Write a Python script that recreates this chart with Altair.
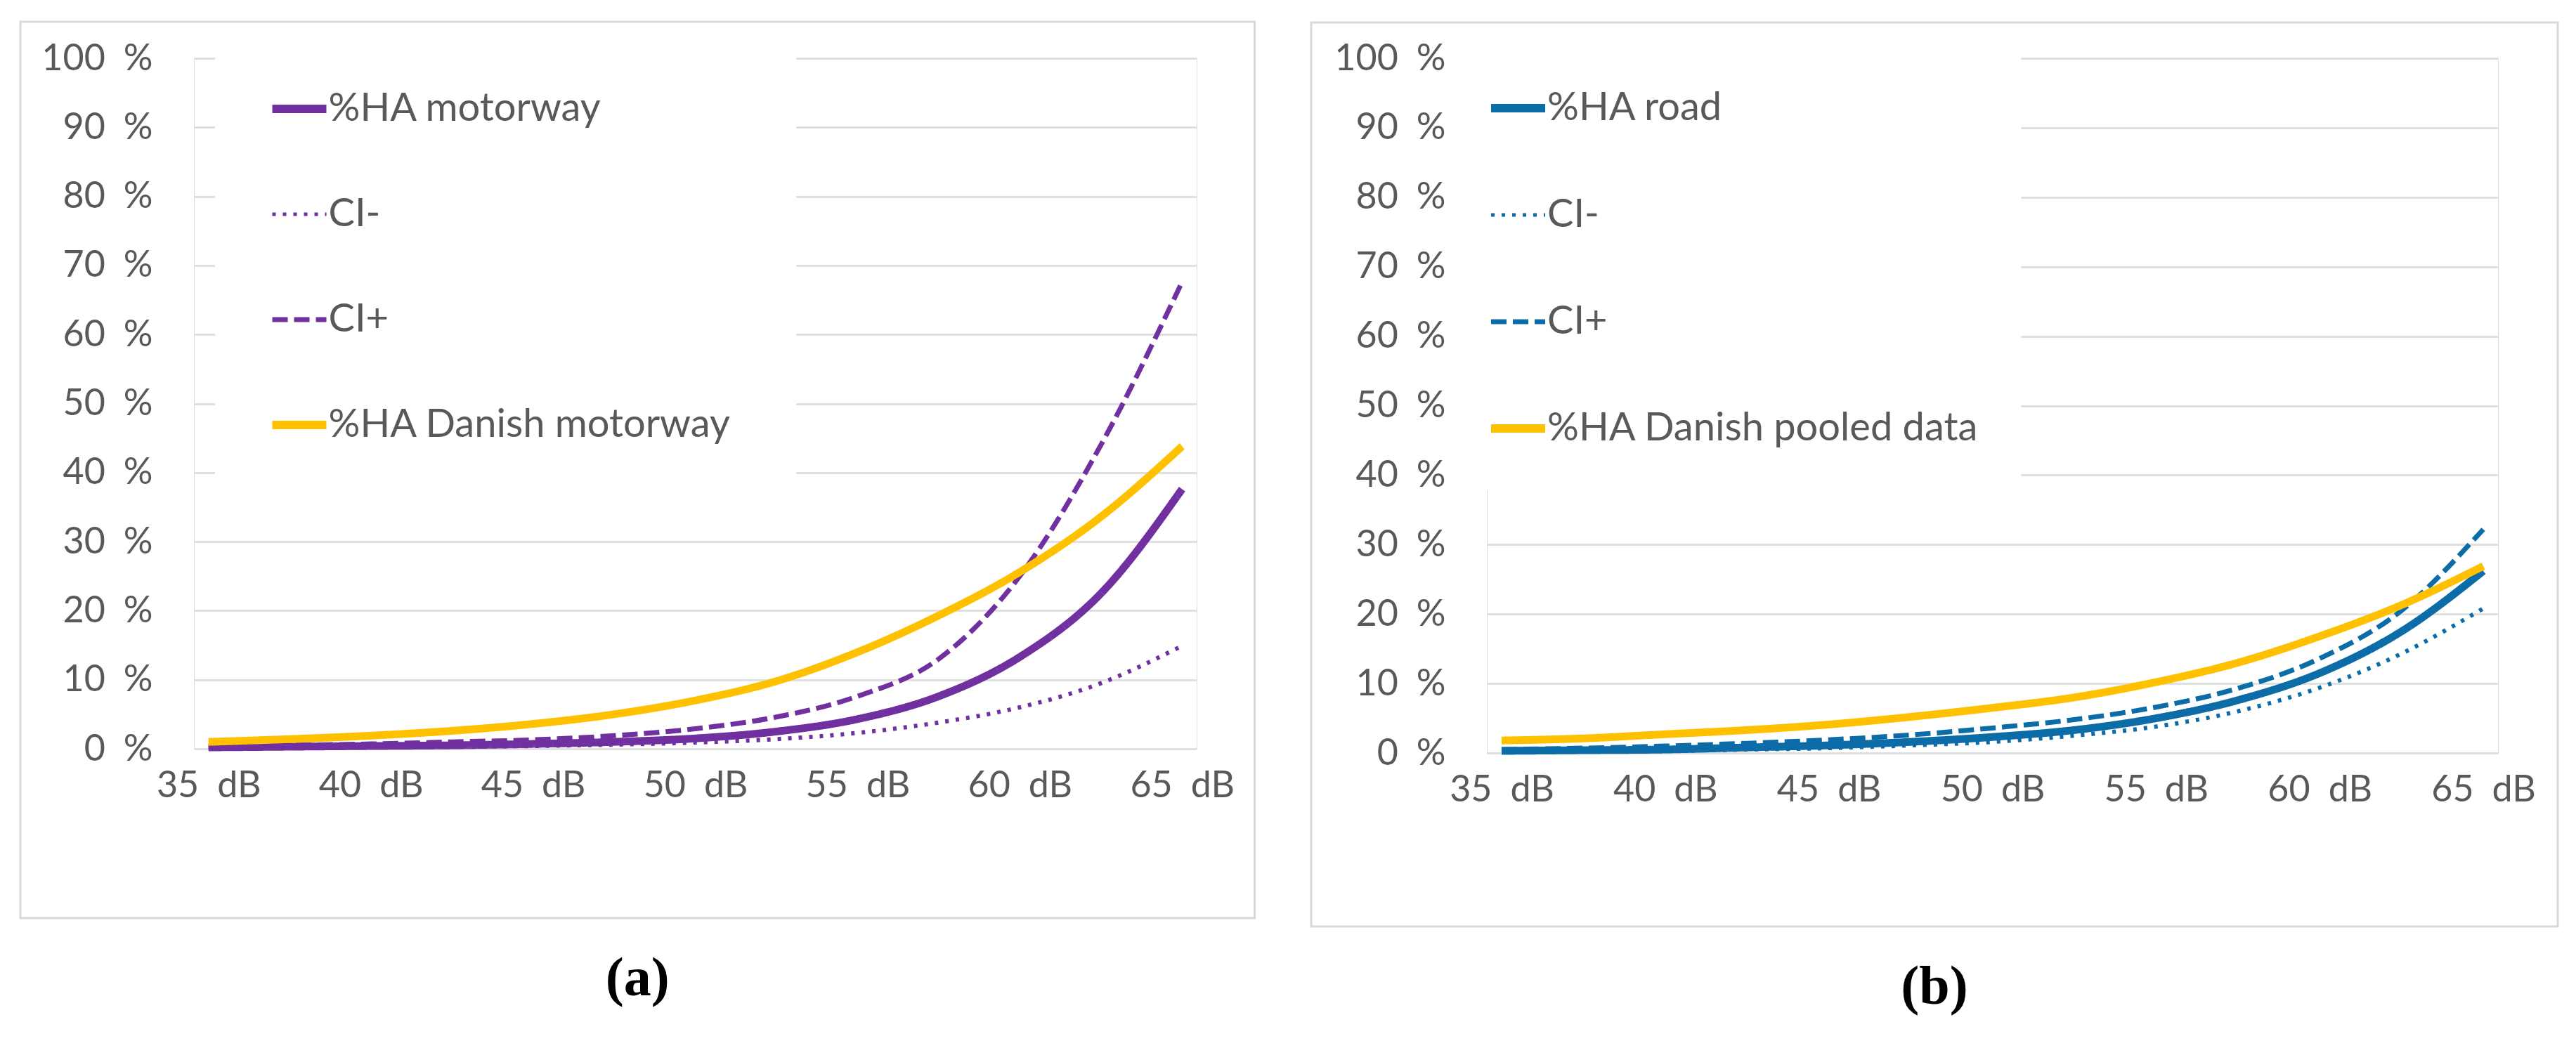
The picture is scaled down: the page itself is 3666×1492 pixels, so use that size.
import altair as alt
import pandas as pd

# ---------------- data ----------------
db = [35, 37.5, 40, 42.5, 45, 47.5, 50, 52.5, 55, 57.5, 60, 62.5, 65]

# panel (a) motorway
a_names = ["%HA motorway", "CI-", "CI+", "%HA Danish motorway"]
a_ha = [0.2, 0.3, 0.4, 0.5, 0.7, 1.0, 1.5, 2.5, 4.3, 7.6, 13.3, 22.5, 37.6]
a_cim = [0.1, 0.15, 0.2, 0.3, 0.4, 0.6, 0.9, 1.4, 2.3, 3.8, 6.0, 9.5, 14.9]
a_cip = [0.3, 0.5, 0.7, 1.0, 1.3, 1.9, 2.9, 4.6, 7.6, 13.0, 25.0, 44.0, 67.6]
a_dk = [1.0, 1.4, 1.9, 2.6, 3.6, 5.0, 7.0, 9.8, 14.0, 19.3, 25.6, 33.6, 43.8]

# panel (b) road
b_names = ["%HA road", "CI-", "CI+", "%HA Danish pooled data"]
b_ha = [0.3, 0.4, 0.5, 0.8, 1.1, 1.6, 2.3, 3.3, 5.0, 7.6, 11.5, 17.5, 26.2]
b_cim = [0.1, 0.2, 0.3, 0.5, 0.7, 1.1, 1.6, 2.5, 3.8, 6.0, 9.4, 14.3, 20.8]
b_cip = [0.5, 0.7, 1.0, 1.4, 1.9, 2.6, 3.6, 4.8, 6.6, 9.3, 13.6, 20.5, 32.2]
b_dk = [1.8, 2.1, 2.7, 3.3, 4.1, 5.2, 6.5, 8.0, 10.2, 13.0, 16.8, 21.3, 26.9]

x_ticks = [35, 40, 45, 50, 55, 60, 65]
y_ticks = [0, 10, 20, 30, 40, 50, 60, 70, 80, 90, 100]

# line style per series position: solid, dotted, dashed, solid (gold)
line_widths = [11, 6, 7, 11]
line_dashes = [[1, 0], [5, 10], [22, 9], [1, 0]]

PURPLE = "#7030A0"
BLUE = "#0B6CA8"
GOLD = "#FFC000"
GRAY_TXT = "#595959"
FRAME = "#d9d9d9"
GRID = "#e0e0e0"
FONT = "Lato"


def long_table(names, series):
    rows = []
    for k, (name, vals) in enumerate(zip(names, series)):
        for x, v in zip(db, vals):
            rows.append({"series": name, "dB": x, "pct": v, "w": line_widths[k]})
    return pd.DataFrame(rows)


def panel(names, series, main_color, width, height, caption,
          leg_x, leg_y, leg_pad, leg_row, frame_box):
    df = long_table(names, series)
    colors = [main_color, main_color, main_color, GOLD]
    sw_expr = "datum.value === 'CI-' ? 5 : datum.value === 'CI+' ? 7 : 12"
    leg = alt.Legend(
        title=None, orient="none", legendX=leg_x, legendY=leg_y,
        fillColor="white", padding=leg_pad, rowPadding=leg_row,
        symbolType="stroke", symbolSize=77 * 77, labelOffset=13.5,
        symbolStrokeWidth={"expr": sw_expr},
        labelFont=FONT, labelFontSize=56, labelColor=GRAY_TXT,
        labelLimit=1000,
    )
    x_enc = alt.X(
        "dB:Q",
        scale=alt.Scale(domain=[34.55, 65.45], nice=False, zero=False),
        axis=alt.Axis(
            values=x_ticks, labelExpr="datum.value + '\u2002dB'",
            grid=False, domain=False, ticks=False, title=None,
            labelPadding=27, labelFont=FONT, labelFontSize=52,
            labelColor=GRAY_TXT, labelFlush=False, labelOverlap=False,
        ),
    )
    y_enc = alt.Y(
        "pct:Q",
        scale=alt.Scale(domain=[0, 100], nice=False),
        axis=alt.Axis(
            values=y_ticks, labelExpr="datum.value + '\u2002%'",
            grid=True, gridColor=GRID, gridWidth=3,
            domain=False, ticks=False, title=None,
            labelPadding=59, labelFont=FONT, labelFontSize=52,
            labelColor=GRAY_TXT, labelOverlap=False,
        ),
    )
    lines = alt.Chart(df).mark_line(interpolate="monotone", strokeCap="butt").encode(
        x=x_enc,
        y=y_enc,
        color=alt.Color("series:N", scale=alt.Scale(domain=names, range=colors), legend=leg),
        strokeDash=alt.StrokeDash("series:N", scale=alt.Scale(domain=names, range=line_dashes), legend=leg),
        strokeWidth=alt.StrokeWidth("w:Q", scale=None),
        order=alt.Order("dB:Q"),
    )
    fx1, fx2, fy1, fy2 = frame_box
    frame = alt.Chart(pd.DataFrame({"f": [0]})).mark_rect(
        fillOpacity=0, stroke=FRAME, strokeWidth=3
    ).encode(
        x=alt.value(fx1), x2=alt.value(fx2), y=alt.value(fy1), y2=alt.value(fy2)
    )
    return alt.layer(frame, lines).properties(
        width=width, height=height,
        title=alt.TitleParams(
            caption, orient="bottom", anchor="middle", frame="bounds",
            font="Liberation Serif", fontSize=78, fontWeight="bold",
            color="black", offset=46,
        ),
    )


WA, HA = 1427, 983
WB, HB = 1439, 989

chart_a = panel(a_names, [a_ha, a_cim, a_cip, a_dk], PURPLE, WA, HA, "(a)",
                30, -48, 92, 94, (-247, WA + 82.5, -52, HA + 241))
chart_b = panel(b_names, [b_ha, b_cim, b_cip, b_dk], BLUE, WB, HB, "(b)",
                -43.5, -17, 60, 96, (-250, WB + 85, -51, HB + 247))

chart = alt.hconcat(chart_a, chart_b, spacing=76).resolve_scale(
    color="independent", strokeDash="independent"
).properties(
    padding={"left": 19, "top": 21, "right": 5, "bottom": 5}
).configure_view(strokeWidth=0).configure(background="white")

chart.save("out.html", embed_options={"renderer": "svg", "actions": False})
